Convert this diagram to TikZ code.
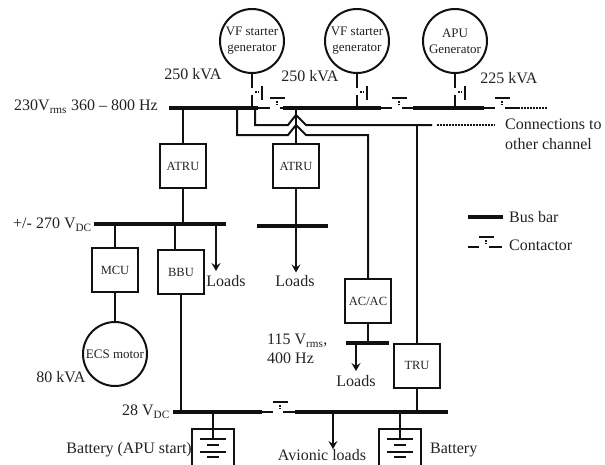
\documentclass[tikz,border=0pt]{standalone}
\usepackage{fontspec}
\setmainfont{Liberation Serif}
\usepackage{xcolor}
\usetikzlibrary{positioning,arrows.meta,calc}
\definecolor{uink}{HTML}{111111}
\definecolor{utxt}{HTML}{222222}
\tikzset{
  wire/.style    ={line width=2pt, draw=uink},
  load/.style    ={wire, -{Stealth[length=8pt,width=9pt,inset=3pt]}},
  dots/.style    ={line width=1.7pt, draw=uink, dash pattern=on 1.5pt off 1.5pt},
  busbar/.style  ={fill=uink, inner sep=0pt, minimum height=4.5pt},
  gen/.style     ={circle, draw=uink, line width=2pt, minimum size=64pt, inner sep=0pt,
                   align=center, text=utxt, font=\fontsize{13}{16}\selectfont},
  conv/.style    ={draw=uink, line width=2pt, minimum width=46pt, minimum height=44pt,
                   inner sep=0pt, text=utxt, font=\fontsize{12.5}{15}\selectfont},
  batt/.style    ={draw=uink, line width=2pt, minimum width=42pt, minimum height=50pt,
                   anchor=north, inner sep=0pt},
  lbl/.style     ={inner sep=0pt, align=left, text=utxt, font=\fontsize{16}{19}\selectfont},
  hswitch/.pic   ={
    \coordinate (-l) at (-7,0);
    \coordinate (-r) at (3,0);
    \draw[wire] (-7.5,-10) -- (7.5,-10);
    \draw[dots] (0,-7) -- (0,-3);
  },
  vswitch/.pic   ={
    \coordinate (-t) at (0,-4);
    \coordinate (-b) at (0,3);
    \draw[wire] (10,-6) -- (10,8);
    \draw[dots] (3,0) -- (7,0);
  },
  cells/.pic     ={
    \draw[wire] (-13,0) -- (13,0);
    \draw[wire] (-6,6) -- (6,6);
    \draw[wire] (-13,13) -- (13,13);
    \draw[wire] (-6,18) -- (6,18);
  },
}
\begin{document}
\begin{tikzpicture}[x=1pt,y=-1pt]
  \useasboundingbox (0,0) rectangle (605,464);
  \clip (0,0) rectangle (605,464);
  % generators
  \node[gen] (genL) at (252,41) {VF starter\\generator};
  \node[gen] (genR) at (357,41) {\raisebox{-3pt}{VF starter}\\\raisebox{-3pt}{generator}};
  \node[gen] (genA) at (455,41) {APU\\Generator};
  % bus bars
  \node[busbar, minimum width=89pt] (busL) at (213.5,108) {};
  \node[busbar, minimum width=98pt] (busR) at (332,108) {};
  \node[busbar, minimum width=71pt] (busA) at (448.5,108) {};
  \node[busbar, minimum width=132pt] (busHV) at (160,224) {};
  \node[busbar, minimum width=71pt] (busMid) at (292.5,226) {};
  \node[busbar, minimum width=43pt] (busAC) at (367.5,343) {};
  \node[busbar, minimum width=89pt] (busDCa) at (217.5,412) {};
  \node[busbar, minimum width=153pt] (busDCb) at (371.5,412) {};
  % converters
  \node[conv] (atruA) at (183,166) {ATRU};
  \node[conv] (atruB) at (296,166) {ATRU};
  \node[conv] (mcu) at (115,270) {MCU};
  \node[conv] (bbu) at (181,272) {BBU};
  \node[conv] (acac) at (368,301) {AC/AC};
  \node[conv] (tru) at (417,365.5) {TRU};
  \node[gen] (ecs) at (115,354) {ECS motor};
  % batteries
  \node[batt] (battA) at (213,428) {};
  \node[batt] (battB) at (400,428) {};
  \coordinate (cellA) at (213,439);
  \coordinate (cellB) at (400,439);
  \pic at (cellA) {cells};
  \pic at (cellB) {cells};
  % contactors
  \pic (swL) at (252,92) {vswitch};
  \pic (swR) at (357,92) {vswitch};
  \pic (swA) at (455,92) {vswitch};
  \pic (tieA) at (277,108) {hswitch};
  \pic (tieB) at (399,108) {hswitch};
  \pic (tieC) at (502,108) {hswitch};
  \pic (tieD) at (280,412) {hswitch};
  \coordinate (outA) at (518,108);
  \coordinate (outAd) at (547,108);
  % labels
  \node[lbl] (kvaL) at (193,74) {250 kVA};
  \node[lbl] (kvaR) at (310,76) {250 kVA};
  \node[lbl] (kvaA) at (509,78) {225 kVA};
  \node[lbl, anchor=west] (acbus) at (14,107) {230V\textsubscript{rms} 360 – 800 Hz};
  \node[lbl, anchor=west] (chan) at (505,134) {Connections to\\[1pt]other channel};
  \node[lbl, anchor=west] (hvbus) at (13,225) {+/- 270 V\textsubscript{DC}};
  \node[lbl] (loadsA) at (226,281) {Loads};
  \node[lbl] (loadsB) at (295,281) {Loads};
  \node[lbl] (loadsC) at (356,381) {Loads};
  \node[lbl, anchor=west] (acout) at (267,349) {115 V\textsubscript{rms},\\400 Hz};
  \node[lbl] (kvaE) at (61,377) {80 kVA};
  \node[lbl, anchor=east] (dcbus) at (170,412) {28 V\textsubscript{DC}};
  \node[lbl, anchor=east] (battAl) at (192,450) {Battery (APU start)};
  \node[lbl, anchor=west] (battBl) at (430,450) {Battery};
  \node[lbl, anchor=base] (avion) at (322,460) {Avionic loads};
  % legend
  \node[busbar, minimum width=35pt] (keyBus) at (485.5,217) {};
  \node[lbl, anchor=west] (keyBusl) at (509,217) {Bus bar};
  \pic (keySw) at (486,247) {hswitch};
  \coordinate (keyL) at (468,247);
  \coordinate (keyR) at (502,247);
  \node[lbl, anchor=west] (keySwl) at (509,245) {Contactor};

  % generator feeds
  \draw[wire] (genL) -- (swL-t);
  \draw[wire] (swL-b) -- (swL-b |- busL.north);
  \draw[wire] (genR) -- (swR-t);
  \draw[wire] (swR-b) -- (swR-b |- busR.north);
  \draw[wire] (genA) -- (swA-t);
  \draw[wire] (swA-b) -- (swA-b |- busA.north);
  % ties
  \draw[wire] (busL.east) -- (tieA-l);
  \draw[wire] (tieA-r) -- (busR.west);
  \draw[wire] (busR.east) -- (tieB-l);
  \draw[wire] (tieB-r) -- (busA.west);
  \draw[wire] (busA.east) -- (tieC-l);
  \draw[wire] (tieC-r) -- (outA);
  \draw[dots] (outA) -- (outAd);
  \draw[wire] (busDCa.east) -- (tieD-l);
  \draw[wire] (tieD-r) -- (busDCb.west);
  % crossings
  \coordinate (xferA) at (255,108);
  \coordinate (xferB) at (237,108);
  \coordinate (chanA) at (432,125);
  \coordinate (chanB) at (437,125);
  \coordinate (chanC) at (495,125);
  \draw[wire] (xferA) |- (288,125) -- (296,115) -- (306,125) -- (chanA);
  \draw[dots] (chanB) -- (chanC);
  \draw[wire] (xferB) |- (288,135) -- (296,125) -- (306,135) -| (acac.north);
  \draw[wire] (tru.north) -- (tru.north |- chanA);
  % AC side
  \draw[wire] (atruA.north |- busL.south) -- (atruA.north);
  \draw[wire] (atruA.south) -- (atruA.south |- busHV.north);
  \draw[wire] (atruB.north |- busR.south) -- (atruB.north);
  \draw[wire] (atruB.south) -- (atruB.south |- busMid.north);
  \draw[load] (atruB.south |- busMid.south) -- ++(0,44);
  \draw[wire] (acac.south) -- (acac.south |- busAC.north);
  \coordinate (loadAC) at (356,371);
  \draw[load] (loadAC |- busAC.south) -- (loadAC);
  % 270 V side
  \coordinate (bbuIn) at (175,250);
  \coordinate (loadHV) at (216,271);
  \draw[wire] (mcu.north |- busHV.south) -- (mcu.north);
  \draw[wire] (mcu) -- (ecs);
  \draw[wire] (bbuIn |- busHV.south) -- (bbuIn);
  \draw[load] (loadHV |- busHV.south) -- (loadHV);
  \draw[wire] (bbu.south) -- (bbu.south |- busDCa.north);
  % 28 V side
  \coordinate (loadDC) at (333,449);
  \draw[wire] (tru.south) -- (tru.south |- busDCb.north);
  \draw[wire] (battA.north |- busDCa.south) -- (cellA);
  \draw[wire] (battB.north |- busDCb.south) -- (cellB);
  \draw[load] (loadDC |- busDCb.south) -- (loadDC);
  % legend lead
  \draw[wire] (keyL) -- (keySw-l);
  \draw[wire] (keySw-r) -- (keyR);
\end{tikzpicture}
\end{document}
